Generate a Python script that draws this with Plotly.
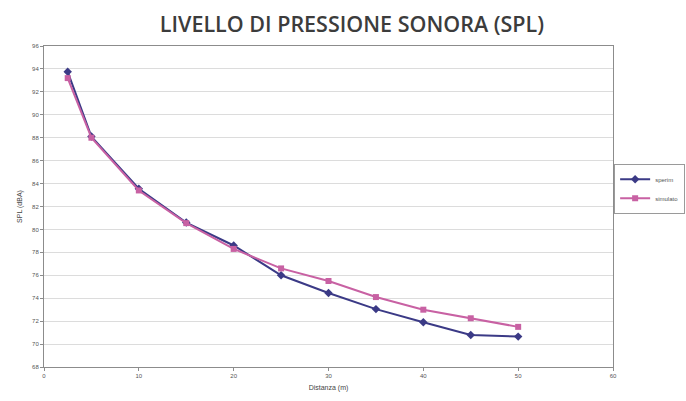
import plotly.graph_objects as go

# Distance from the source (m)
distanza = [2.5, 5, 10, 15, 20, 25, 30, 35, 40, 45, 50]
# Measured sound pressure level (dBA)
spl_sperim = [93.75, 88.1, 83.55, 80.6, 78.6, 76.0, 74.45, 73.05, 71.9, 70.8, 70.65]
# Simulated sound pressure level (dBA)
spl_simulato = [93.2, 88.0, 83.4, 80.55, 78.3, 76.6, 75.5, 74.1, 73.0, 72.25, 71.5]

x_ticks = [0, 10, 20, 30, 40, 50, 60]
y_ticks = list(range(68, 97, 2))

fig = go.Figure()
fig.add_trace(go.Scatter(
    x=distanza, y=spl_sperim, name="sperim", mode="lines+markers",
    line=dict(color="#3b3a86", width=2),
    marker=dict(symbol="diamond", size=6.5, color="#3b3a86"),
))
fig.add_trace(go.Scatter(
    x=distanza, y=spl_simulato, name="simulato", mode="lines+markers",
    line=dict(color="#c861a3", width=2),
    marker=dict(symbol="square", size=6, color="#c861a3"),
))

axis_font = dict(family="Liberation Sans", size=6, color="#555555")

fig.update_layout(
    width=686, height=401,
    margin=dict(l=44, r=73, t=46, b=34, autoexpand=False),
    paper_bgcolor="white", plot_bgcolor="white",
    title=dict(
        text="LIVELLO DI PRESSIONE SONORA (SPL)",
        x=0.513, xanchor="center", y=0.938, yanchor="middle",
        font=dict(family="Open Sans", size=21.5, color="#3c3c3c", weight=600),
    ),
    showlegend=True,
    legend=dict(
        x=1.002, xanchor="left", y=0.555, yanchor="middle",
        bgcolor="white", bordercolor="#9a9a9a", borderwidth=1,
        font=dict(family="Liberation Sans", size=6, color="#555555"),
        itemwidth=30, tracegroupgap=4,
    ),
    xaxis=dict(
        range=[0, 60], tickvals=x_ticks, showgrid=False, zeroline=False,
        showline=True, linecolor="#8c8c8c", linewidth=1, mirror=True,
        ticks="outside", ticklen=3, tickcolor="#8c8c8c",
        tickfont=axis_font,
        title=dict(text="Distanza (m)", font=dict(family="Liberation Sans", size=7, color="#444444"), standoff=6),
    ),
    yaxis=dict(
        range=[68, 96], tickvals=y_ticks, showgrid=True, gridcolor="#dcdcdc", gridwidth=1,
        zeroline=False, showline=True, linecolor="#8c8c8c", linewidth=1, mirror=True,
        ticks="outside", ticklen=3, tickcolor="#8c8c8c",
        tickfont=axis_font,
        title=dict(text="SPL (dBA)", font=dict(family="Liberation Sans", size=7, color="#444444"), standoff=8),
    ),
)

fig.write_html("out.html")
